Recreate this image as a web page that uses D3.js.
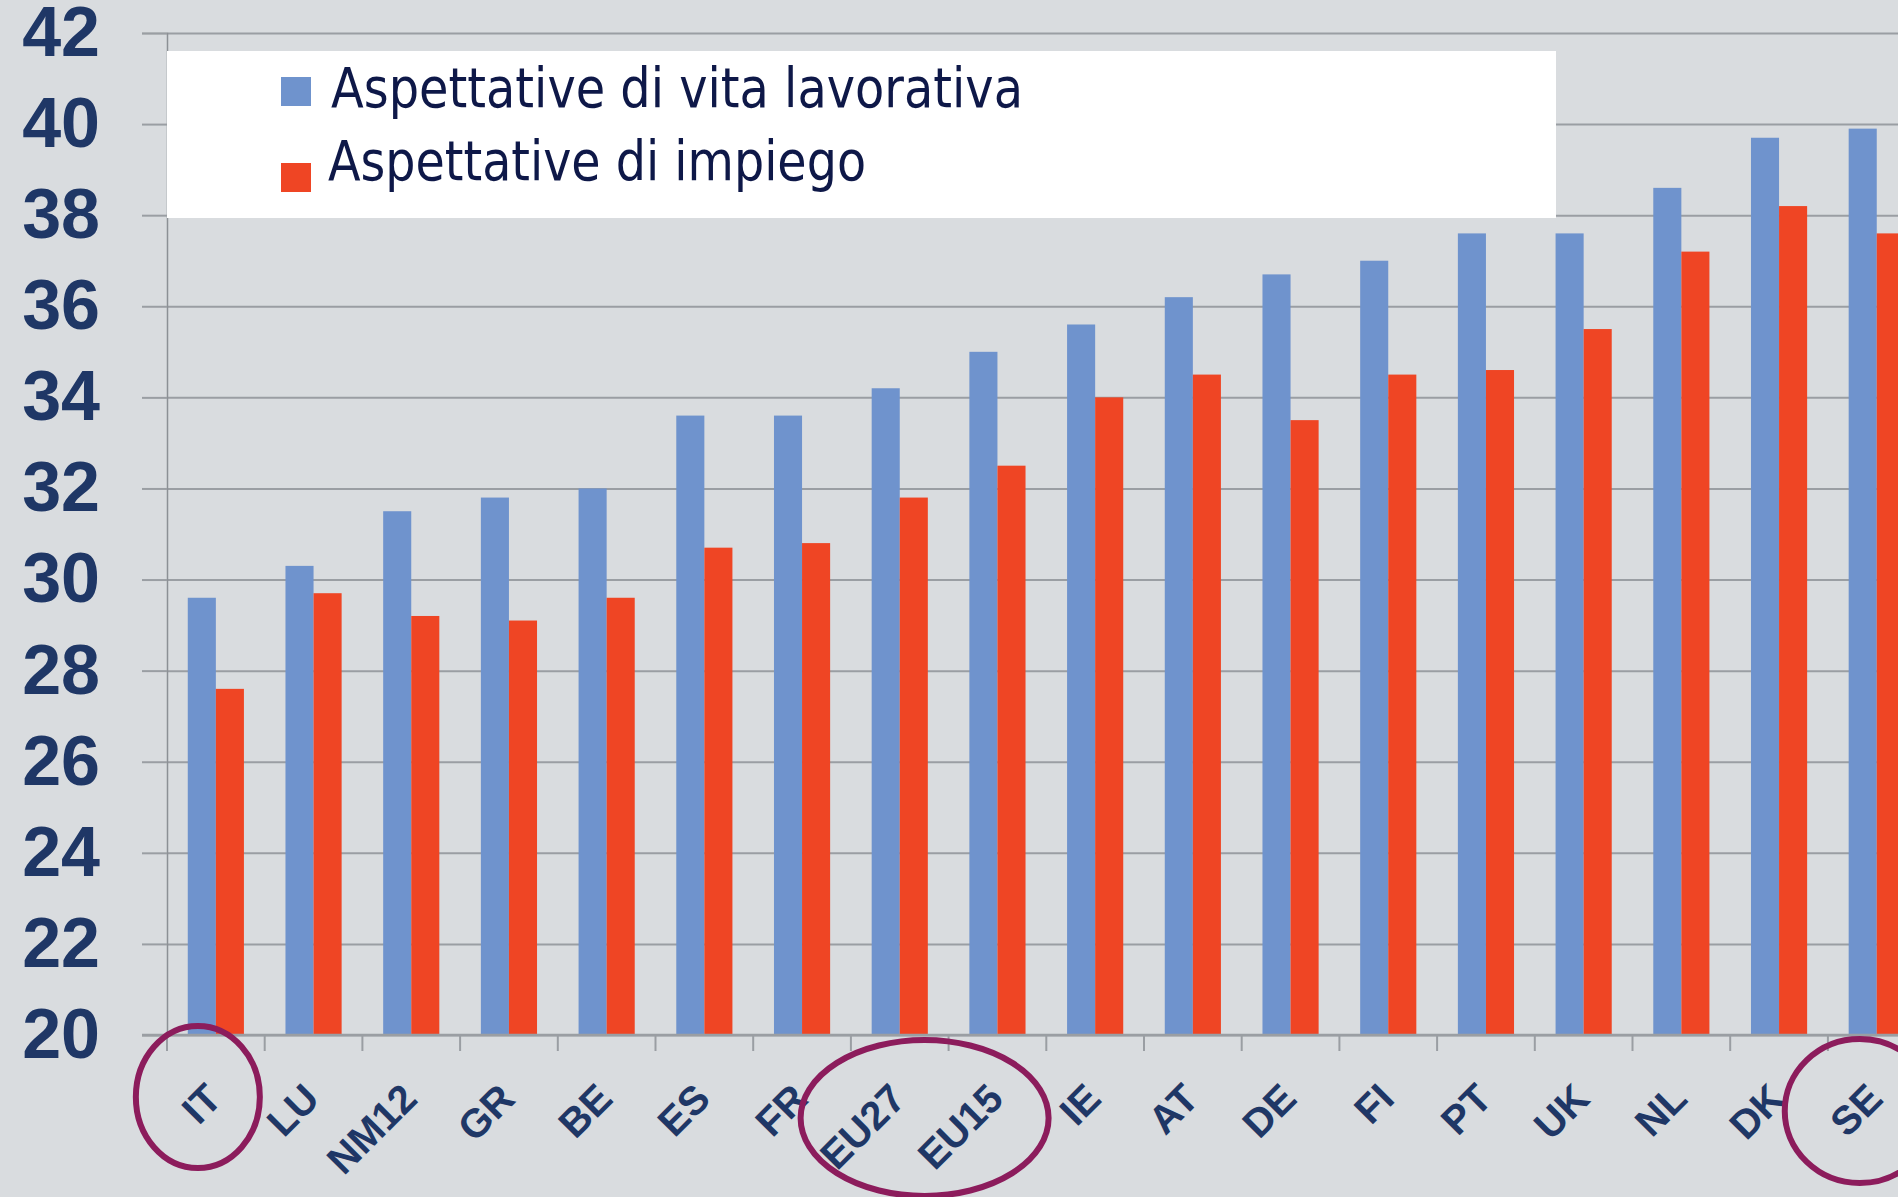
<!DOCTYPE html>
<html>
<head>
<meta charset="utf-8">
<script src="https://cdn.jsdelivr.net/npm/d3@7"></script>
<style>
  html, body { margin: 0; padding: 0; background: #d9dcdf; overflow: hidden; }
  svg { display: block; }
</style>
</head>
<body>
<svg id="chart" width="1898" height="1197"></svg>
<script>
// ---- data ----
const categories = ["IT","LU","NM12","GR","BE","ES","FR","EU27","EU15","IE","AT","DE","FI","PT","UK","NL","DK","SE"];
const vitaLavorativa = [29.6,30.3,31.5,31.8,32.0,33.6,33.6,34.2,35.0,35.6,36.2,36.7,37.0,37.6,37.6,38.6,39.7,39.9];
const impiego        = [27.6,29.7,29.2,29.1,29.6,30.7,30.8,31.8,32.5,34.0,34.5,33.5,34.5,34.6,35.5,37.2,38.2,37.6];
const seriesNames = ["Aspettative di vita lavorativa","Aspettative di impiego"];
const yTickValues = [20,22,24,26,28,30,32,34,36,38,40,42];
const highlighted = [["IT"],["EU27","EU15"],["SE"]];

// ---- layout / style ----
const W = 1898, H = 1197;
const axisX = 167, baseY = 1035, topY = 33, step = 97.7;
const colors = ["#6f93cd", "#ef4524"];
const navy = "#1f3766";
const gridColor = "#9a9ea3";

const svg = d3.select("#chart");
svg.append("rect").attr("width", W).attr("height", H).attr("fill", "#d9dcdf");

const x = d3.scaleBand().domain(categories).range([axisX, axisX + step * categories.length]).padding(0);
const xs = d3.scaleBand().domain([0, 1]).range([0, x.bandwidth()]).paddingInner(0).paddingOuter(0.74);
const y = d3.scaleLinear().domain([20, 42]).range([baseY, topY]);

// gridlines
const grid = svg.append("g").attr("transform", `translate(${axisX},0)`)
  .call(d3.axisLeft(y).tickValues(yTickValues).tickSize(-(W - axisX)).tickFormat(""));
grid.select(".domain").remove();
grid.selectAll("line").attr("stroke", gridColor).attr("stroke-width", 2);

// y axis with left ticks and labels
const yAxis = svg.append("g").attr("transform", `translate(${axisX},0)`)
  .call(d3.axisLeft(y).tickValues(yTickValues).tickSize(25).tickPadding(42));
yAxis.select(".domain").attr("stroke", "#8c9095").attr("stroke-width", 1.5);
yAxis.selectAll("line").attr("stroke", gridColor).attr("stroke-width", 2);
yAxis.selectAll("text")
  .attr("fill", navy)
  .style("font-family", "'Liberation Sans', Arial, sans-serif")
  .style("font-weight", "bold")
  .style("font-size", "70px");

// bars
const groups = svg.append("g").selectAll("g").data(categories).join("g")
  .attr("transform", d => `translate(${x(d)},0)`);
groups.selectAll("rect")
  .data((d, i) => [vitaLavorativa[i], impiego[i]])
  .join("rect")
  .attr("x", (v, j) => xs(j))
  .attr("width", xs.bandwidth())
  .attr("y", v => y(v))
  .attr("height", v => baseY - y(v))
  .attr("fill", (v, j) => colors[j]);

// x axis baseline & boundary ticks
svg.append("line").attr("x1", axisX - 25).attr("x2", W).attr("y1", baseY).attr("y2", baseY)
  .attr("stroke", gridColor).attr("stroke-width", 2.5);
svg.append("g").selectAll("line").data(categories.concat(["__end"])).join("line")
  .attr("x1", (d, i) => axisX + i * x.step()).attr("x2", (d, i) => axisX + i * x.step())
  .attr("y1", baseY).attr("y2", baseY + 16)
  .attr("stroke", gridColor).attr("stroke-width", 2);

// x labels
const xAxis = svg.append("g").attr("transform", `translate(0,${baseY})`)
  .call(d3.axisBottom(x).tickSize(0));
xAxis.select(".domain").remove();
xAxis.selectAll("text")
  .attr("x", 0).attr("y", 0).attr("dy", 0)
  .attr("transform", "translate(8,66) rotate(-45)")
  .attr("text-anchor", "end")
  .attr("fill", navy)
  .style("font-family", "'Liberation Sans', Arial, sans-serif")
  .style("font-weight", "bold")
  .style("font-size", "40px");

// legend
const lg = svg.append("g");
lg.append("rect").attr("x", 167).attr("y", 51).attr("width", 1389).attr("height", 167).attr("fill", "#ffffff");
const legendRows = [{sy: 77, ty: 107, tx: 331, len: 692}, {sy: 163, ty: 180, tx: 328, len: 538}];
seriesNames.forEach((name, i) => {
  const r = legendRows[i];
  lg.append("rect").attr("x", 281).attr("y", r.sy).attr("width", 30).attr("height", 29).attr("fill", colors[i]);
  lg.append("text").attr("x", r.tx).attr("y", r.ty)
    .attr("fill", "#0e1848")
    .attr("textLength", r.len).attr("lengthAdjust", "spacingAndGlyphs")
    .style("font-family", "'DejaVu Sans Condensed', 'DejaVu Sans', sans-serif")
    .style("font-size", "55px")
    .text(name);
});

// highlight ellipses
const ellipseStyle = [{rx: 62, ry: 71, dx: -18, dy: 62}, {rx: 124, ry: 78, dx: -24, dy: 83}, {rx: 75, ry: 72, dx: -17, dy: 76}];
highlighted.forEach((cats, i) => {
  const s = ellipseStyle[i];
  const cx = d3.mean(cats, c => x(c) + x.bandwidth() / 2) + s.dx;
  svg.append("ellipse").attr("cx", cx).attr("cy", baseY + s.dy).attr("rx", s.rx).attr("ry", s.ry)
    .attr("fill", "none").attr("stroke", "#8c1c5c").attr("stroke-width", 6);
});
</script>
</body>
</html>
